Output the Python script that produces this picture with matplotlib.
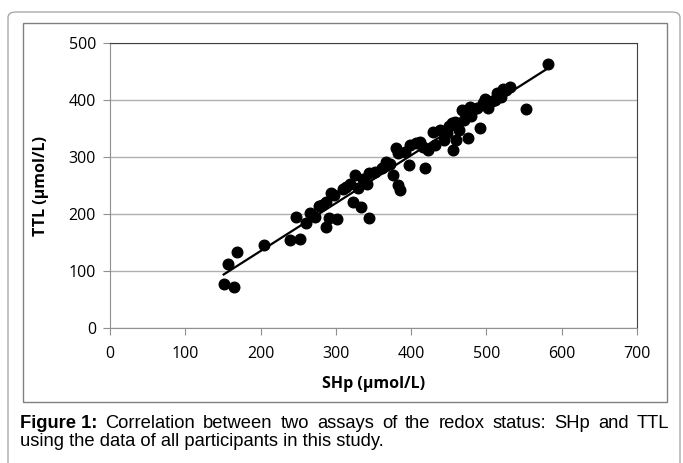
import numpy as np
import matplotlib.pyplot as plt
from matplotlib.patches import FancyBboxPatch, Rectangle

# SHp vs TTL (umol/L)
shp = [151, 165, 157, 169, 204, 239, 253, 247, 260, 266, 272, 277, 281, 287,
       294, 297, 291, 287, 302, 314, 319, 325, 323, 334, 330, 341, 344, 344,
       352, 361, 367, 376, 383, 385, 380, 383, 392, 398, 397, 407, 418, 412,
       429, 438, 423, 443, 454, 458, 463, 456, 460, 476, 491, 467, 474, 478,
       487, 496, 502, 514, 498, 582, 552, 531, 522, 520, 511, 310, 336, 365,
       372, 416, 432, 447, 450, 470, 480, 508, 526]
ttl = [78, 72, 113, 134, 146, 155, 156, 196, 185, 203, 196, 215, 216, 222,
       237, 234, 193, 177, 191, 248, 254, 269, 222, 213, 246, 254, 272, 193,
       275, 281, 292, 269, 251, 243, 316, 307, 310, 322, 286, 325, 282, 327,
       345, 348, 313, 330, 360, 362, 348, 313, 330, 333, 351, 383, 377, 389,
       386, 395, 386, 412, 403, 464, 384, 424, 419, 406, 400, 245, 262, 285,
       288, 318, 322, 342, 355, 365, 372, 398, 418]

x_ticks = [0, 100, 200, 300, 400, 500, 600, 700]
y_ticks = [0, 100, 200, 300, 400, 500]

fig = plt.figure(figsize=(6.83, 4.63), dpi=100)
W, H = 683, 463

# outer rounded frame and chart box
fig.patches.append(FancyBboxPatch((8 / W, -0.05), 672 / W, 1 - 12 / H + 0.05,
                                  boxstyle="round,pad=0,rounding_size=0.012",
                                  transform=fig.transFigure, fill=False,
                                  edgecolor='#a0a0a0', lw=0.9))
fig.patches.append(Rectangle((23 / W, 1 - 402 / H), 644 / W, 379 / H,
                             transform=fig.transFigure, fill=False,
                             edgecolor='#808080', lw=1.0))

ax = fig.add_axes([110 / W, 1 - 328.3 / H, 527 / W, 285 / H])

ax.scatter(shp, ttl, s=58, color='black', zorder=3)

# linear trendline over the data range
a, b = np.polyfit(shp, ttl, 1)
xl = np.array([min(shp), max(shp)])
ax.plot(xl, a * xl + b, color='black', lw=1.6, zorder=4)

ax.set_xlim(0, 700)
ax.set_ylim(0, 500)
ax.set_xticks(x_ticks)
ax.set_yticks(y_ticks)
ax.yaxis.grid(True, color='#b0b0b0', lw=1.0)
ax.set_axisbelow(True)
for s in ['left', 'bottom']:
    ax.spines[s].set_color('#909090')
for s in ['top', 'right']:
    ax.spines[s].set_color('#404040')
ax.tick_params(colors='#909090', length=5, labelcolor='black', labelsize=11.5)
ax.tick_params(axis='x', pad=8)
ax.tick_params(axis='y', pad=5)
for lab in ax.get_xticklabels() + ax.get_yticklabels():
    lab.set_family('Open Sans')

ax.set_xlabel('SHp (µmol/L)', fontsize=11.5, fontweight='bold', family='Open Sans', labelpad=10)
ax.set_ylabel('TTL (µmol/L)', fontsize=11.5, fontweight='bold', family='Open Sans', labelpad=14)

# caption, first line justified between x=20 and x=669
cap_fs = 13.2
words = ['Correlation', 'between', 'two', 'assays', 'of', 'the', 'redox',
         'status:', 'SHp', 'and', 'TTL']
y1 = 1 - 423 / H
renderer = fig.canvas.get_renderer()
items = [fig.text(20 / W, y1, 'Figure 1:', fontsize=cap_fs, family='Liberation Sans',
                  fontweight='bold', va='center')]
for w in words:
    items.append(fig.text(0, y1, w, fontsize=cap_fs, family='Liberation Sans', va='center'))
widths = [t.get_window_extent(renderer).width for t in items]
gap = (649 - sum(widths)) / (len(items) - 1)
xpos = 20
for t, wd in zip(items, widths):
    t.set_x(xpos / W)
    xpos += wd + gap
fig.text(20 / W, 1 - 441 / H, 'using the data of all participants in this study.',
         fontsize=cap_fs, family='Liberation Sans', va='center')

fig.savefig('out.png', dpi=100)
